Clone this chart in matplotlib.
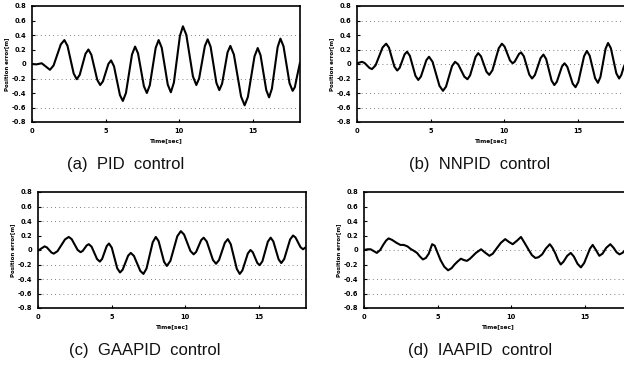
import matplotlib
matplotlib.use("Agg")
import matplotlib.pyplot as plt

# ---------------- data ----------------
t_pid = [0, 0.3, 0.66, 0.94, 1.22, 1.465, 1.71, 1.955, 2.2, 2.41, 2.62, 2.83, 3.04,
         3.24, 3.435, 3.63, 3.83, 4.03, 4.23, 4.43, 4.63, 4.815, 5.0, 5.185, 5.37,
         5.57, 5.77, 5.97, 6.17, 6.38, 6.585, 6.79, 7.0, 7.2, 7.4, 7.6, 7.8,
         8.0, 8.2, 8.4, 8.6, 8.81, 9.015, 9.22, 9.43, 9.635, 9.84, 10.045, 10.25,
         10.48, 10.705, 10.93, 11.16, 11.35, 11.545, 11.74, 11.93, 12.13, 12.325, 12.52,
         12.72, 12.91, 13.095, 13.28, 13.47, 13.71, 13.955, 14.2, 14.44, 14.66, 14.885,
         15.11, 15.33, 15.52, 15.715, 15.91, 16.1, 16.29, 16.485, 16.68, 16.87, 17.08,
         17.285, 17.49, 17.7, 17.85, 18.0, 18.2]
e_pid = [0.0, -0.005, 0.01, -0.035, -0.08, -0.02, 0.125, 0.27, 0.33, 0.251, 0.06, -0.131, -0.21,
         -0.15, -0.005, 0.14, 0.2, 0.128, -0.045, -0.218, -0.29, -0.24, -0.12, 0.0, 0.05,
         -0.032, -0.23, -0.428, -0.51, -0.40, -0.135, 0.13, 0.24, 0.147, -0.08, -0.307, -0.4,
         -0.293, -0.035, 0.223, 0.33, 0.225, -0.03, -0.285, -0.39, -0.257, 0.065, 0.387, 0.52,
         0.402, 0.115, -0.172, -0.29, -0.198, 0.025, 0.248, 0.34, 0.238, -0.01, -0.258,
         -0.36, -0.271, -0.055, 0.161, 0.25, 0.13, -0.16, -0.45, -0.57, -0.455, -0.175,
         0.105, 0.22, 0.121, -0.12, -0.361, -0.46, -0.342, -0.055, 0.232, 0.35, 0.245,
         -0.01, -0.265, -0.37, -0.32, -0.17, 0.02]

t_nnpid = [0, 0.34, 0.51, 0.68, 0.85, 1.02, 1.26, 1.5, 1.74, 1.98, 2.17, 2.355, 2.54, 2.73,
           2.9, 3.065, 3.23, 3.4, 3.59, 3.78, 3.97, 4.16, 4.34, 4.525, 4.71, 4.89,
           5.13, 5.365, 5.6, 5.84, 6.045, 6.25, 6.455, 6.66, 6.87, 7.08, 7.29, 7.5,
           7.68, 7.865, 8.05, 8.23, 8.42, 8.605, 8.79, 8.98, 9.195, 9.41, 9.625, 9.84,
           10.02, 10.205, 10.39, 10.57, 10.71, 10.855, 11.0, 11.14, 11.33, 11.515, 11.7, 11.89,
           12.08, 12.275, 12.47, 12.66, 12.845, 13.03, 13.215, 13.4, 13.57, 13.745, 13.92, 14.09,
           14.28, 14.465, 14.65, 14.84, 15.03, 15.225, 15.42, 15.61, 15.8, 15.985, 16.17, 16.36,
           16.53, 16.705, 16.88, 17.05, 17.24, 17.425, 17.61, 17.8, 17.95, 18.1, 18.2]
e_nnpid = [0.01, 0.03, 0.015, -0.02, -0.055, -0.07, -0.019, 0.105, 0.229, 0.28, 0.226, 0.095, -0.036, -0.09,
           -0.052, 0.04, 0.132, 0.17, 0.113, -0.025, -0.163, -0.22, -0.173, -0.06, 0.053, 0.1,
           0.031, -0.135, -0.301, -0.37, -0.312, -0.17, -0.028, 0.03, -0.005, -0.09, -0.175, -0.21,
           -0.157, -0.03, 0.097, 0.15, 0.106, 0.0, -0.106, -0.15, -0.087, 0.065, 0.217, 0.28,
           0.241, 0.145, 0.049, 0.01, 0.032, 0.085, 0.138, 0.16, 0.107, -0.02, -0.147, -0.2,
           -0.152, -0.035, 0.082, 0.13, 0.069, -0.08, -0.229, -0.29, -0.246, -0.14, -0.034, 0.01,
           -0.038, -0.155, -0.272, -0.32, -0.247, -0.07, 0.107, 0.18, 0.116, -0.04, -0.196, -0.26,
           -0.18, 0.015, 0.21, 0.29, 0.218, 0.045, -0.128, -0.2, -0.15, -0.05, 0.0]

t_gaapid = [0, 0.22, 0.45, 0.605, 0.76, 0.915, 1.07, 1.325, 1.58, 1.835, 2.09, 2.29, 2.49, 2.69, 2.89,
            3.03, 3.17, 3.31, 3.45, 3.64, 3.825, 4.01, 4.2, 4.355, 4.51, 4.665, 4.82,
            5.01, 5.195, 5.38, 5.57, 5.75, 5.935, 6.12, 6.3, 6.515, 6.73, 6.945, 7.16,
            7.37, 7.58, 7.79, 8.0, 8.19, 8.375, 8.56, 8.75, 8.99, 9.225, 9.46, 9.7,
            9.92, 10.135, 10.35, 10.57, 10.74, 10.91, 11.08, 11.25, 11.46, 11.67, 11.88, 12.09,
            12.29, 12.49, 12.69, 12.89, 13.09, 13.295, 13.5, 13.7, 13.88, 14.065, 14.25, 14.43,
            14.585, 14.74, 14.895, 15.05, 15.24, 15.425, 15.61, 15.8, 15.98, 16.16, 16.34, 16.52,
            16.72, 16.92, 17.12, 17.32, 17.49, 17.66, 17.83, 18.0, 18.2]
e_gaapid = [-0.01, 0.02, 0.05, 0.035, 0.0, -0.035, -0.05, -0.016, 0.065, 0.146, 0.18, 0.149, 0.075, 0.001, -0.03,
            -0.014, 0.025, 0.064, 0.08, 0.045, -0.04, -0.125, -0.16, -0.123, -0.035, 0.053, 0.09,
            0.032, -0.11, -0.252, -0.31, -0.271, -0.175, -0.079, -0.04, -0.082, -0.185, -0.288, -0.33,
            -0.256, -0.075, 0.106, 0.18, 0.122, -0.02, -0.162, -0.22, -0.15, 0.02, 0.19, 0.26,
            0.213, 0.1, -0.013, -0.06, -0.026, 0.055, 0.136, 0.17, 0.117, -0.01, -0.137, -0.19,
            -0.14, -0.02, 0.1, 0.15, 0.08, -0.09, -0.26, -0.33, -0.282, -0.165, -0.048, 0.0,
            -0.031, -0.105, -0.179, -0.21, -0.155, -0.02, 0.115, 0.17, 0.119, -0.005, -0.129, -0.18,
            -0.125, 0.01, 0.145, 0.2, 0.172, 0.105, 0.038, 0.01, 0.04]

t_iaapid = [0, 0.25, 0.45, 0.87, 1.1, 1.3, 1.5, 1.67, 1.9, 2.2, 2.47, 2.7, 2.95, 3.2, 3.38, 3.6,
            3.8, 4.0, 4.2, 4.4, 4.52, 4.63, 4.8, 5.0, 5.2, 5.45, 5.71, 5.95, 6.15, 6.35, 6.58,
            6.8, 6.99, 7.2, 7.4, 7.6, 7.95, 8.25, 8.52, 8.75, 9.0, 9.3, 9.59, 9.85, 10.1, 10.4,
            10.66, 10.9, 11.19, 11.4, 11.64, 11.85, 12.1, 12.35, 12.62, 12.8, 13.0, 13.18, 13.36,
            13.55, 13.8, 14.04, 14.25, 14.5, 14.73, 14.95, 15.15, 15.35, 15.53, 15.75, 15.98,
            16.2, 16.45, 16.73, 16.95, 17.15, 17.35, 17.55, 17.8, 18.0]
e_iaapid = [0.0, 0.01, 0.01, -0.04, 0.0, 0.07, 0.13, 0.16, 0.14, 0.1, 0.07, 0.07, 0.05, 0.01, -0.01, -0.04,
            -0.09, -0.13, -0.11, -0.05, 0.02, 0.08, 0.06, -0.04, -0.14, -0.23, -0.28, -0.25, -0.2, -0.16, -0.12,
            -0.14, -0.15, -0.12, -0.08, -0.04, 0.01, -0.04, -0.08, -0.05, 0.02, 0.1, 0.15, 0.11, 0.08, 0.13,
            0.18, 0.1, 0.0, -0.07, -0.11, -0.1, -0.06, 0.02, 0.08, 0.03, -0.05, -0.14, -0.2,
            -0.16, -0.08, -0.04, -0.09, -0.19, -0.24, -0.18, -0.08, 0.02, 0.07, 0.0, -0.08,
            -0.05, 0.03, 0.08, 0.03, -0.03, -0.06, -0.04, 0.01, 0.05]

captions = ["(a)  PID  control", "(b)  NNPID  control", "(c)  GAAPID  control", "(d)  IAAPID  control"]
y_ticks = [0.8, 0.6, 0.4, 0.2, 0, -0.2, -0.4, -0.6, -0.8]
y_tick_labels = ["0.8", "0.6", "0.4", "0.2", "0", "-0.2", "-0.4", "-0.6", "-0.8"]
x_ticks = [0, 5, 10, 15]
x_tick_labels = ["0", "5", "10", "15"]
y_label = "Position error[m]"
x_label = "Time[sec]"

# ---------------- layout ----------------
W, H = 624, 370
fig = plt.figure(figsize=(W / 100, H / 100), dpi=100)
fig.patch.set_facecolor("white")

def px_axes(left, top, width, height):
    return fig.add_axes([left / W, 1 - (top + height) / H, width / W, height / H])

panels = [
    (px_axes(32, 6, 268, 116), t_pid, e_pid, [0.4, -0.2, -0.6]),
    (px_axes(357, 6, 268, 116), t_nnpid, e_nnpid, [0.6, 0.2, 0, -0.4, -0.6]),
    (px_axes(38, 192, 268, 116), t_gaapid, e_gaapid, [0.6, 0.4, -0.2, -0.4, -0.6]),
    (px_axes(364, 192, 268, 116), t_iaapid, e_iaapid, [0, -0.4, -0.6]),
]

for ax, t, e, grid_levels in panels:
    for g in grid_levels:
        ax.axhline(g, color="#555555", lw=0.6, ls=(0, (1, 4)), zorder=1)
    ax.plot(t, e, color="black", lw=1.5, zorder=3, solid_capstyle="round",
            solid_joinstyle="round")
    ax.set_xlim(0, 18.2)
    ax.set_ylim(-0.8, 0.8)
    ax.set_yticks(y_ticks)
    ax.set_yticklabels(y_tick_labels)
    ax.set_xticks(x_ticks)
    ax.set_xticklabels(x_tick_labels)
    ax.tick_params(axis="both", direction="in", length=2, width=0.8, pad=4,
                   labelsize=4.8, colors="black")
    for lab in ax.get_xticklabels() + ax.get_yticklabels():
        lab.set_fontweight("bold")
    ax.set_ylabel(y_label, fontsize=4, fontweight="bold", labelpad=2)
    ax.set_xlabel(x_label, fontsize=4.2, fontweight="bold", labelpad=3)
    for s in ax.spines.values():
        s.set_linewidth(1.2)

cap_pos = [(126, 164), (480, 164), (145, 350), (480, 350)]
for (cx, cy), text in zip(cap_pos, captions):
    fig.text(cx / W, 1 - cy / H, text, ha="center", va="center",
             fontsize=12, family="Liberation Sans", color="#111111")

fig.savefig("out.png", dpi=100)
